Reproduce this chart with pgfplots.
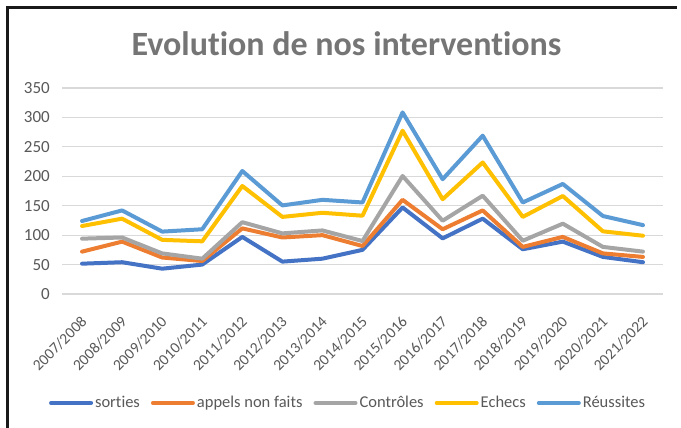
\documentclass[border=0pt]{standalone}
\usepackage{pgfplots}
\pgfplotsset{compat=1.18}
\usepackage{fontspec}
\setmainfont[Ligatures={NoCommon}]{Carlito}
\definecolor{cSort}{HTML}{4472C4}
\definecolor{cApp}{HTML}{ED7D31}
\definecolor{cCon}{HTML}{A5A5A5}
\definecolor{cEch}{HTML}{FFC000}
\definecolor{cReu}{HTML}{5B9BD5}
\definecolor{cGrid}{HTML}{D9D9D9}
\definecolor{cTxt}{HTML}{595959}
\definecolor{cTitle}{HTML}{757575}
\begin{document}
\begin{tikzpicture}
\path[use as bounding box] (0,0) rectangle (681bp,428bp);
\fill[white] (0,0) rectangle (681bp,428bp);
\draw[black!90, line width=3bp] (7bp,0) -- (7bp,420.5bp) -- (677bp,420.5bp);
\node[font=\fontsize{34bp}{40bp}\selectfont\bfseries, text=cTitle] at (346.5bp,384bp) {Evolution de nos interventions};
\begin{axis}[
  at={(62bp,134bp)}, anchor=south west,
  width=601bp, height=206bp, scale only axis,
  xmin=-0.5, xmax=14.5, ymin=0, ymax=350,
  ytick={0,50,...,350},
  xtick={0,...,14},
  xticklabels={2007/2008,2008/2009,2009/2010,2010/2011,2011/2012,2012/2013,2013/2014,2014/2015,2015/2016,2016/2017,2017/2018,2018/2019,2019/2020,2020/2021,2021/2022},
  axis line style={draw=none},
  major tick length=0pt,
  ymajorgrids, grid style={cGrid, line width=1.2bp},
  tick label style={font=\fontsize{17bp}{20bp}\selectfont, text=cTxt},
  /pgf/number format/assume math mode=true,
  yticklabel style={inner sep=0pt, xshift=-12bp},
  xticklabel style={font=\fontsize{15.5bp}{18bp}\selectfont, xshift=-2bp, yshift=-21bp, rotate=45, anchor=north east, inner sep=0pt},
  legend columns=5,
  legend style={at={(rel axis cs:0.476,-0.529)}, anchor=center, draw=none, fill=none,
    font=\fontsize{16.5bp}{20bp}\selectfont, text=cTxt, inner sep=0pt,
    nodes={inner xsep=2bp},
    /tikz/every even column/.append style={column sep=9bp}},
  legend image code/.code={\draw[#1, line width=4bp] (0,0) -- (40bp,0);},
  legend cell align=left,
  every axis plot/.append style={line width=4bp, line join=round, line cap=round},
]
\addplot[cSort] coordinates {(0,51.5)(1,54)(2,43)(3,50)(4,97)(5,55)(6,60)(7,75)(8,147)(9,94.5)(10,128)(11,76)(12,89)(13,63)(14,54)};
\addlegendentry{sorties}
\addplot[cApp] coordinates {(0,72)(1,89)(2,62)(3,56)(4,111.5)(5,96)(6,100)(7,81.5)(8,160)(9,110)(10,142)(11,80)(12,97)(13,69)(14,63)};
\addlegendentry{appels non faits}
\addplot[cCon] coordinates {(0,94)(1,96)(2,69)(3,60)(4,122)(5,103)(6,108)(7,90)(8,200.5)(9,124.5)(10,167)(11,90.5)(12,119.5)(13,80)(14,72)};
\addlegendentry{Contrôles}
\addplot[cEch] coordinates {(0,115.5)(1,128)(2,92)(3,89.5)(4,183.5)(5,131)(6,138)(7,133)(8,277.5)(9,161)(10,223.5)(11,131)(12,166.5)(13,106.5)(14,99)};
\addlegendentry{Echecs}
\addplot[cReu] coordinates {(0,124)(1,142)(2,106)(3,110)(4,209)(5,150.5)(6,160)(7,155.5)(8,308.5)(9,195)(10,269)(11,155.5)(12,187)(13,132.5)(14,117)};
\addlegendentry{Réussites}
\end{axis}
\end{tikzpicture}
\end{document}
